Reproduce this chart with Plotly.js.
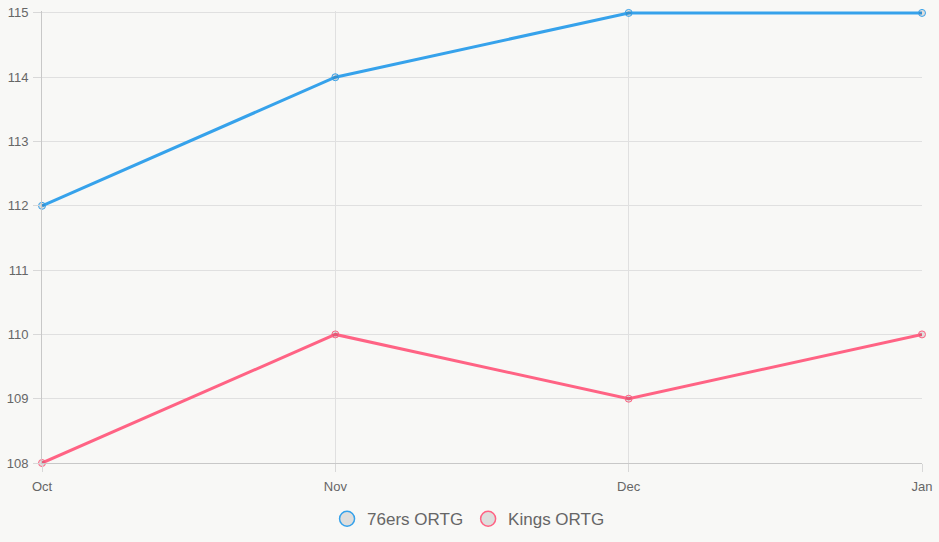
<!DOCTYPE html>
<html><head><meta charset="utf-8">
<script src="https://cdn.plot.ly/plotly-3.0.1.min.js"></script>
<style>html,body{margin:0;padding:0;background:#f8f8f6;}#chart{width:939px;height:542px;}</style>
</head><body><div id="chart"></div>
<script>
const months = ["Oct", "Nov", "Dec", "Jan"];
const sixersORTG = [112, 114, 115, 115];
const kingsORTG = [108, 110, 109, 110];
const seriesNames = ["76ers ORTG", "Kings ORTG"];
const blue = "#36A2EB", pink = "#FF6384";
function line(name, y, color){
  return {x: months, y: y, name: name, type: "scatter", mode: "lines+markers", showlegend: false,
    line: {color: color, width: 3}, cliponaxis: false,
    marker: {size: 7, color: "rgba(0,0,0,0.1)", line: {color: color, width: 1}}, hoverinfo: "x+y+name"};
}
function legendItem(name, color){
  return {x: [null], y: [null], name: name, type: "scatter", mode: "markers", showlegend: true,
    marker: {size: 15, color: "rgba(0,0,0,0.1)", line: {color: color, width: 1.5}}};
}
const data = [line(seriesNames[0], sixersORTG, blue), line(seriesNames[1], kingsORTG, pink),
  legendItem(seriesNames[0], blue), legendItem(seriesNames[1], pink)];
const layout = {
  width: 939, height: 542,
  paper_bgcolor: "#f8f8f6", plot_bgcolor: "#f8f8f6",
  margin: {l: 42, r: 17, t: 11, b: 79},
  font: {family: "Liberation Sans, Arial, sans-serif", color: "#666", size: 13},
  xaxis: {type: "category", range: [0, 3], showgrid: true, gridcolor: "#e0e0e0", gridwidth: 1,
    showline: true, linecolor: "#c8c8c8", linewidth: 1, ticks: "outside", ticklen: 8, tickcolor: "#d8d8d8",
    ticklabelstandoff: 3, zeroline: false, tickfont: {size: 13, color: "#666"}},
  yaxis: {range: [108, 115.03], tickvals: [108,109,110,111,112,113,114,115], showgrid: true, gridcolor: "#e0e0e0", gridwidth: 1,
    showline: true, linecolor: "#c8c8c8", linewidth: 1, ticks: "outside", ticklen: 8, tickcolor: "#d8d8d8",
    ticklabelstandoff: 2, zeroline: false, tickfont: {size: 13, color: "#666"}},
  legend: {orientation: "h", xref: "container", yref: "container", x: 0.499, xanchor: "center", y: 0.042, yanchor: "middle",
    font: {size: 17, color: "#666"}, bgcolor: "rgba(0,0,0,0)", itemwidth: 30},
  showlegend: true
};
Plotly.newPlot("chart", data, layout, {displayModeBar: false, responsive: false});
</script></body></html>
